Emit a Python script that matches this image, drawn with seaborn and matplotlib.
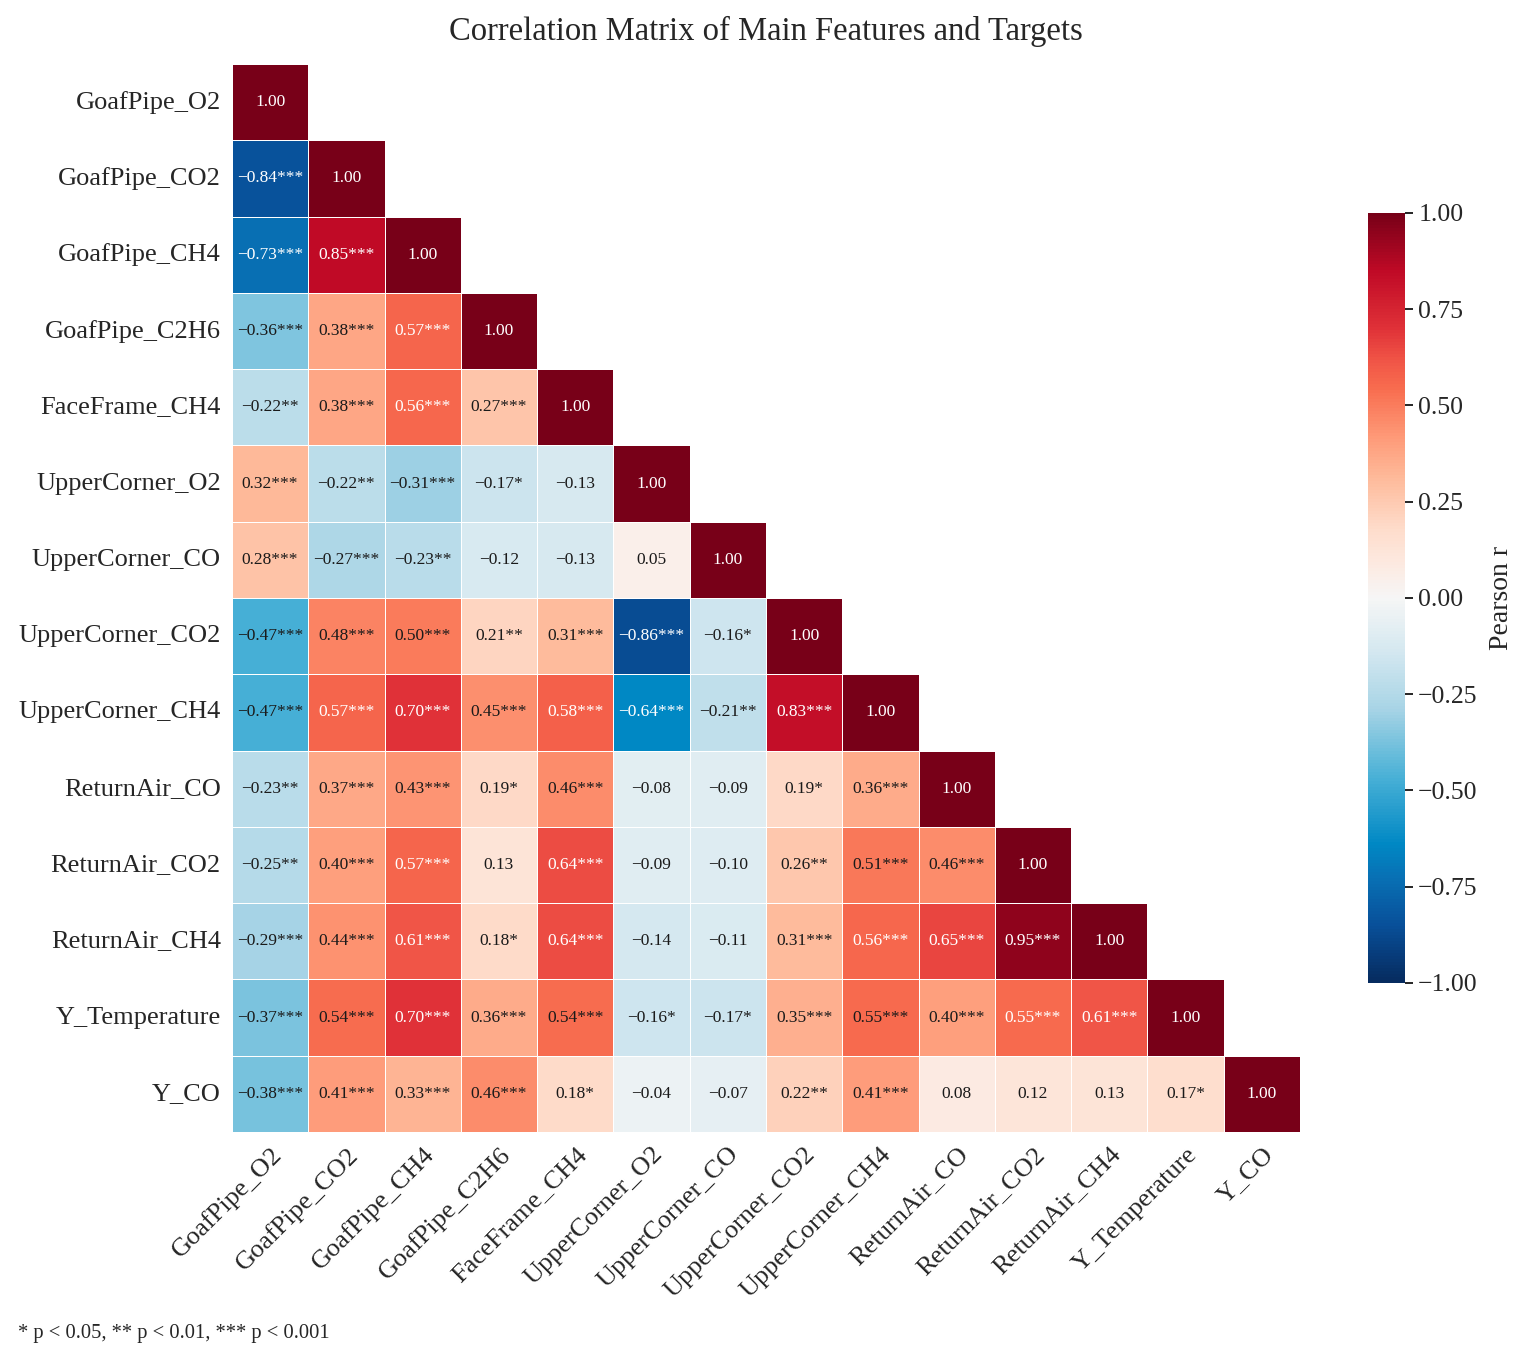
import numpy as np
import pandas as pd
import matplotlib
matplotlib.use("Agg")
import matplotlib.pyplot as plt
import matplotlib.colors as mcolors
import seaborn as sns

features = ["GoafPipe_O2", "GoafPipe_CO2", "GoafPipe_CH4", "GoafPipe_C2H6",
            "FaceFrame_CH4", "UpperCorner_O2", "UpperCorner_CO", "UpperCorner_CO2",
            "UpperCorner_CH4", "ReturnAir_CO", "ReturnAir_CO2", "ReturnAir_CH4",
            "Y_Temperature", "Y_CO"]

# lower-triangle correlation values (row i, columns 0..i)
r_rows = [
    [1.00],
    [-0.84, 1.00],
    [-0.73, 0.85, 1.00],
    [-0.36, 0.38, 0.57, 1.00],
    [-0.22, 0.38, 0.56, 0.27, 1.00],
    [0.32, -0.22, -0.31, -0.17, -0.13, 1.00],
    [0.28, -0.27, -0.23, -0.12, -0.13, 0.05, 1.00],
    [-0.47, 0.48, 0.50, 0.21, 0.31, -0.86, -0.16, 1.00],
    [-0.47, 0.57, 0.70, 0.45, 0.58, -0.64, -0.21, 0.83, 1.00],
    [-0.23, 0.37, 0.43, 0.19, 0.46, -0.08, -0.09, 0.19, 0.36, 1.00],
    [-0.25, 0.40, 0.57, 0.13, 0.64, -0.09, -0.10, 0.26, 0.51, 0.46, 1.00],
    [-0.29, 0.44, 0.61, 0.18, 0.64, -0.14, -0.11, 0.31, 0.56, 0.65, 0.95, 1.00],
    [-0.37, 0.54, 0.70, 0.36, 0.54, -0.16, -0.17, 0.35, 0.548, 0.40, 0.553, 0.61, 1.00],
    [-0.38, 0.41, 0.33, 0.46, 0.18, -0.04, -0.07, 0.22, 0.41, 0.08, 0.12, 0.13, 0.17, 1.00],
]

# significance stars count (0 = n.s.)
star_rows = [
    [0],
    [3, 0],
    [3, 3, 0],
    [3, 3, 3, 0],
    [2, 3, 3, 3, 0],
    [3, 2, 3, 1, 0, 0],
    [3, 3, 2, 0, 0, 0, 0],
    [3, 3, 3, 2, 3, 3, 1, 0],
    [3, 3, 3, 3, 3, 3, 2, 3, 0],
    [2, 3, 3, 1, 3, 0, 0, 1, 3, 0],
    [2, 3, 3, 0, 3, 0, 0, 2, 3, 3, 0],
    [3, 3, 3, 1, 3, 0, 0, 3, 3, 3, 3, 0],
    [3, 3, 3, 3, 3, 1, 1, 3, 3, 3, 3, 3, 0],
    [3, 3, 3, 3, 1, 0, 0, 2, 3, 0, 0, 0, 1, 0],
]

cbar_ticks = [-1.00, -0.75, -0.50, -0.25, 0.00, 0.25, 0.50, 0.75, 1.00]

n = len(features)
corr = np.full((n, n), np.nan)
labels = np.full((n, n), "", dtype=object)
for i in range(n):
    for j in range(i + 1):
        v = r_rows[i][j]
        corr[i, j] = v
        corr[j, i] = v
        s = f"{v:.2f}".replace("-", "\u2212") + "*" * star_rows[i][j]
        labels[i, j] = s
        labels[j, i] = s

df = pd.DataFrame(corr, index=features, columns=features)
mask = np.triu(np.ones((n, n), dtype=bool), k=1)

# vivid RdBu-like diverging colormap (anchor position on [-1, 1], colour)
cmap_anchors = [
    (-1.00, "#062b5f"), (-0.85, "#08509a"), (-0.73, "#0870b4"), (-0.64, "#0088c4"),
    (-0.47, "#48b0d6"), (-0.37, "#7cc4de"), (-0.29, "#a8d4e6"), (-0.14, "#d4e8f0"),
    (0.00, "#f6f6f6"), (0.10, "#fde8de"), (0.18, "#fedccb"), (0.32, "#feb898"),
    (0.42, "#fe9a78"), (0.54, "#f86e50"), (0.62, "#f05446"), (0.70, "#e03238"),
    (0.85, "#c00a26"), (1.00, "#780018"),
]
cmap = mcolors.LinearSegmentedColormap.from_list(
    "vivid_rdbu", [((p + 1) / 2, c) for p, c in cmap_anchors], N=256)

sns.set_theme(style="white")
plt.rcParams["font.family"] = ["Liberation Serif", "DejaVu Serif"]

fig = plt.figure(figsize=(15.28, 13.66), dpi=100)
ax = fig.add_axes([0.1518, 0.1713, 0.699, 0.7818])
cax = fig.add_axes([0.8953, 0.2804, 0.0242, 0.5637])

sns.heatmap(df, mask=mask, cmap=cmap, vmin=-1, vmax=1, center=0,
            annot=labels, fmt="", annot_kws={"size": 12.5},
            linewidths=0.7, linecolor="white", square=False,
            ax=ax, cbar_ax=cax, cbar_kws={"ticks": cbar_ticks})

for t in ax.texts:
    x, y = t.get_position()
    i, j = int(y), int(x)
    t.set_color("white" if abs(corr[i, j]) > 0.55 else "#1a1a1a")

ax.set_title("Correlation Matrix of Main Features and Targets", fontsize=23.5, pad=17)
ax.set_xticklabels(features, rotation=45, ha="right", rotation_mode="anchor", fontsize=19)
ax.set_yticklabels(features, rotation=0, fontsize=19)
ax.tick_params(axis="both", length=0, pad=8)

cb = ax.collections[0].colorbar
cb.ax.tick_params(labelsize=18.5, length=6, width=1.2, color="black")
cb.set_ticklabels([f"{t:.2f}".replace("-", "\u2212") for t in cbar_ticks])
cb.set_label("Pearson r", fontsize=20, labelpad=8)
cb.outline.set_visible(False)

fig.text(0.012, 0.024, "* p < 0.05, ** p < 0.01, *** p < 0.001", fontsize=14.8, ha="left", va="center")

fig.savefig("out.png", dpi=100)
